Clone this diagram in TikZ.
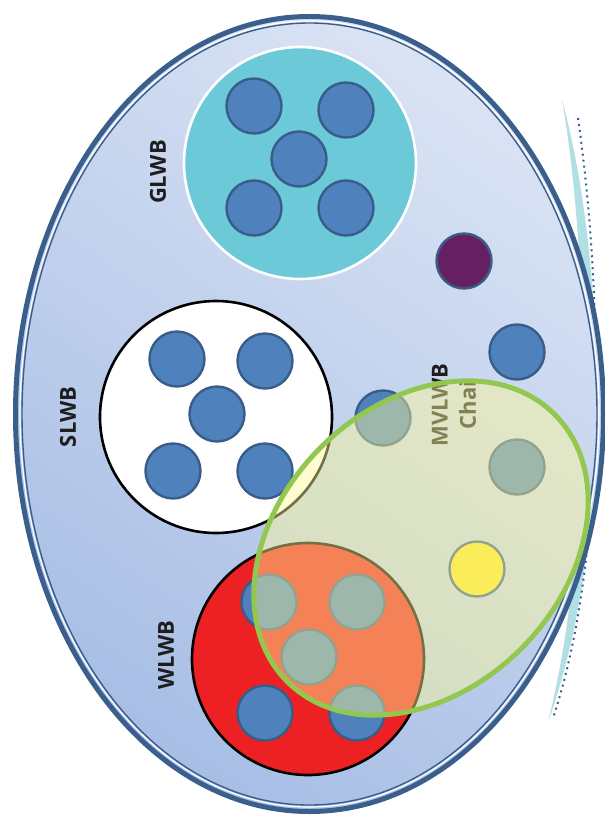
\documentclass[tikz,border=0pt]{standalone}
\usepackage{fontspec}
\setmainfont{Open Sans}
\usetikzlibrary{shapes.geometric}

\definecolor{rimblue}{RGB}{58,95,140}
\definecolor{skylight}{RGB}{218,227,244}
\definecolor{skydark}{RGB}{168,190,229}
\definecolor{ballblue}{RGB}{79,129,189}
\definecolor{ballrim}{RGB}{56,93,138}
\definecolor{ballpurple}{RGB}{102,32,98}
\definecolor{ballyellow}{RGB}{247,228,40}
\definecolor{poolteal}{RGB}{108,202,216}
\definecolor{poolred}{RGB}{237,32,36}
\definecolor{chaingreen}{RGB}{146,200,80}
\definecolor{chainfill}{RGB}{255,250,150}
\definecolor{leafteal}{RGB}{80,185,195}
\definecolor{labelgray}{RGB}{30,30,30}

\tikzset{
	ball node/.style = {
		circle,
		draw = ballrim,
		fill = ballblue,
		line width = 1.2pt,
		minimum size = 27.5pt,
		inner sep = 0pt
	},
	purple node/.style = {
		ball node,
		fill = ballpurple
	},
	yellow node/.style = {
		ball node,
		fill = ballyellow
	},
	pool node/.style = {
		circle,
		line width = 1.3pt,
		minimum size = 116pt,
		inner sep = 0pt
	},
	name node/.style = {
		rotate = 90,
		text = labelgray,
		font = \bfseries\fontsize{11}{14}\selectfont
	},
	chain node/.style = {
		ellipse,
		draw = chaingreen,
		line width = 2.5pt,
		fill = chainfill,
		fill opacity = 0.45,
		minimum width = 189pt,
		minimum height = 142pt,
		inner sep = 0pt,
		rotate = 45
	}
}

\begin{document}
\begin{tikzpicture}[x={(0.5pt,0)}, y={(0,-0.5pt)}]
	\useasboundingbox (0,0) rectangle (605,825);
	\fill[leafteal, opacity = 0.45] (562,100) .. controls (606,260) and (614,540) .. (548,722) .. controls (594,540) and (590,260) .. cycle;
	\draw[rimblue, dotted, line width = 1pt] (578,118) .. controls (604,300) and (606,560) .. (553,718);
	\draw[rimblue, line width = 2.5pt, top color = skylight, bottom color = skydark, shading angle = -35] (309.5,414) ellipse (294 and 397.5);
	\draw[white, line width = 0.6pt] (309.5,414) ellipse (289.5 and 393);
	\draw[rimblue, line width = 0.7pt] (309.5,414) ellipse (287.5 and 391);

	\node at (300,163) [pool node, draw = white, fill = poolteal] (glwb) {};
	\node at (216,417) [pool node, draw = black, fill = white] (slwb) {};
	\node at (308,659) [pool node, draw = black, fill = poolred] (wlwb) {};

	\node at (254,106) [ball node] (g1) {};
	\node at (346,110) [ball node] (g2) {};
	\node at (299,159) [ball node] (g3) {};
	\node at (254,208) [ball node] (g4) {};
	\node at (346,208) [ball node] (g5) {};

	\node at (177,359) [ball node] (s1) {};
	\node at (265,361) [ball node] (s2) {};
	\node at (217,414) [ball node] (s3) {};
	\node at (173,471) [ball node] (s4) {};
	\node at (265,471) [ball node] (s5) {};

	\node at (269,602) [ball node] (w1) {};
	\node at (357,602) [ball node] (w2) {};
	\node at (309,657) [ball node] (w3) {};
	\node at (265,713) [ball node] (w4) {};
	\node at (357,713) [ball node] (w5) {};

	\node at (464,261) [purple node] (m1) {};
	\node at (517,352) [ball node] (m2) {};
	\node at (383,418) [ball node] (m3) {};
	\node at (517,467) [ball node] (m4) {};
	\node at (477,569) [yellow node] (m5) {};

	\node at (158,172) [name node] (glwb label) {GLWB};
	\node at (68,417) [name node] (slwb label) {SLWB};
	\node at (166,655) [name node] (wlwb label) {WLWB};
	\node at (454,405) [name node, align = center] (mvlwb label) {MVLWB\\Chai};

	\node at (421,548) [chain node] (chain) {};
\end{tikzpicture}
\end{document}
